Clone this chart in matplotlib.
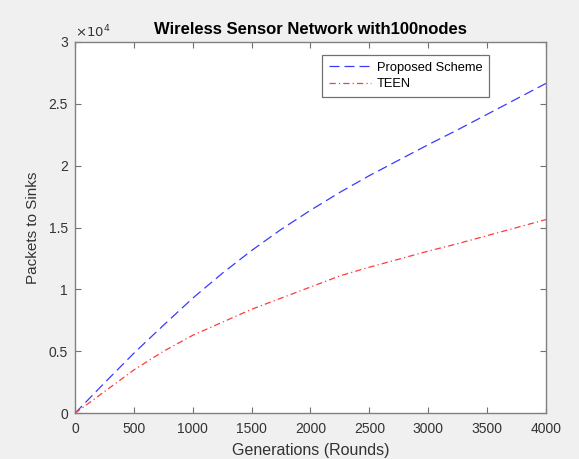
import numpy as np
import matplotlib
matplotlib.use("Agg")
import matplotlib.pyplot as plt
from matplotlib.ticker import FuncFormatter

plt.rcParams['font.family'] = ['Liberation Sans', 'DejaVu Sans']

rounds = [0, 250, 500, 750, 1000, 1250, 1500, 1750, 2000, 2250, 2500,
          2750, 3000, 3250, 3500, 3750, 4000]
proposed = [0, 2450, 4850, 7100, 9300, 11300, 13150, 14850, 16400, 17850,
            19200, 20450, 21700, 22900, 24150, 25400, 26650]
teen = [0, 1750, 3500, 5000, 6300, 7350, 8400, 9300, 10200, 11100, 11800,
        12450, 13100, 13700, 14350, 15000, 15650]

fig = plt.figure(figsize=(5.79, 4.59), dpi=100, facecolor='#f0f0f0')
ax = fig.add_axes([0.1295, 0.0996, 0.8135, 0.8091])
ax.set_facecolor('white')

ax.plot(rounds, proposed, color='#3a3aff', ls=(0, (8, 4)), lw=0.9,
        label='Proposed Scheme')
ax.plot(rounds, teen, color='#ff3a3a', ls=(0, (5, 2.5, 1, 2.5)), lw=0.9,
        label='TEEN')

ax.set_xlim(0, 4000)
ax.set_ylim(0, 30000)
ax.set_xticks(np.arange(0, 4001, 500))
ax.set_yticks(np.arange(0, 30001, 5000))
ax.yaxis.set_major_formatter(FuncFormatter(lambda v, p: f"{v / 1e4:g}"))

for s in ax.spines.values():
    s.set_color('#808080')
    s.set_linewidth(1.0)
ax.tick_params(direction='in', length=4, width=0.8, color='#707070',
               labelcolor='#333333', labelsize=10, top=True, right=True)
ax.tick_params(axis='x', pad=6)
ax.tick_params(axis='y', pad=5)

ax.text(0.0, 1.005, r'$\times10^{4}$', transform=ax.transAxes, fontsize=9.5,
        color='#333333', va='bottom', ha='left')

ax.set_title('Wireless Sensor Network with100nodes', fontsize=12,
             fontweight='bold', pad=6)
ax.set_xlabel('Generations (Rounds)', fontsize=11.5, color='#333333',
              labelpad=5)
ax.set_ylabel('Packets to Sinks', fontsize=11, color='#333333', labelpad=6)

leg = ax.legend(loc='upper right', bbox_to_anchor=(0.892, 0.982),
                fontsize=9.3, fancybox=False, framealpha=1,
                edgecolor='#707070', handlelength=3.3, borderpad=0.5,
                labelspacing=0.35, handletextpad=0.4)
leg.get_frame().set_linewidth(0.9)

fig.savefig('out.png', dpi=100, facecolor=fig.get_facecolor())
